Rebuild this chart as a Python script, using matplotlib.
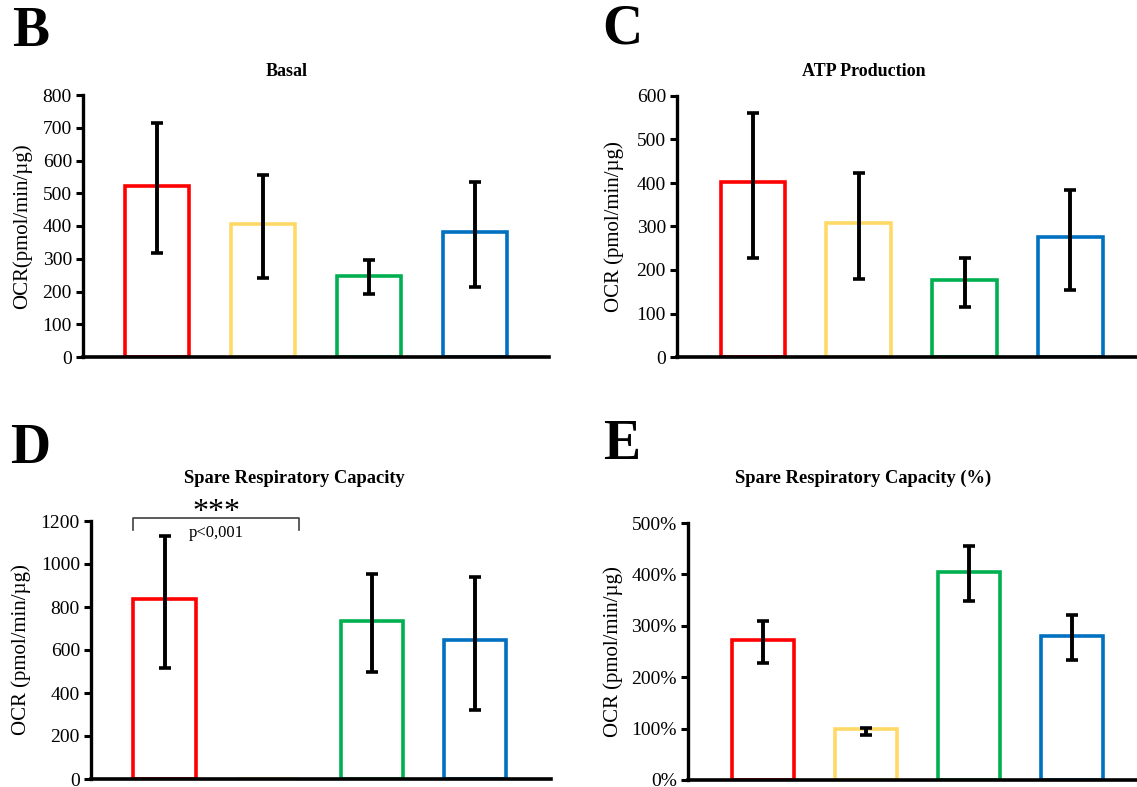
import matplotlib
matplotlib.use("Agg")
import matplotlib.pyplot as plt
import numpy as np

plt.rcParams['font.family'] = ['Liberation Serif', 'DejaVu Serif']

# ---------------- data ----------------
colors = ['#FF0000', '#FFD966', '#00B050', '#0070C0']
groups = ['G1', 'G2', 'G3', 'G4']

basal_mean = [522, 405, 248, 382]
basal_errcenter = [516, 398, 243, 373]
basal_err = [198, 158, 52, 160]

atp_mean = [402, 308, 178, 276]
atp_errcenter = [394, 302, 171, 270]
atp_err = [166, 122, 57, 115]

src_mean = [838, 0, 736, 646]
src_errcenter = [824, 0, 724, 631]
src_err = [306, 0, 228, 310]

srcp_mean = [273, 100, 405, 280]
srcp_errcenter = [269, 95, 402, 277]
srcp_err = [41, 7, 54, 44]

basal_ticks = [0, 100, 200, 300, 400, 500, 600, 700, 800]
atp_ticks = [0, 100, 200, 300, 400, 500, 600]
src_ticks = [0, 200, 400, 600, 800, 1000, 1200]
srcp_ticks = [0, 100, 200, 300, 400, 500]
srcp_ticklabels = ['0%', '100%', '200%', '300%', '400%', '500%']

W, H = 1137, 787
fig = plt.figure(figsize=(W / 100, H / 100), dpi=100)


def add_ax(left, right, top, bottom):
    return fig.add_axes([left / W, 1 - bottom / H, (right - left) / W, (bottom - top) / H])


def style(ax, ticks, ticklabels=None):
    for s in ['top', 'right']:
        ax.spines[s].set_visible(False)
    ax.spines['left'].set_linewidth(2.4)
    ax.spines['bottom'].set_linewidth(2.6)
    ax.set_xticks([])
    ax.set_yticks(ticks)
    if ticklabels is not None:
        ax.set_yticklabels(ticklabels)
    ax.set_ylim(ticks[0], ticks[-1])
    ax.tick_params(axis='y', direction='out', length=5, width=2.2, labelsize=14, pad=3)


def draw(ax, means, errcenter, errs, width):
    x = np.arange(len(means))
    ax.bar(x, means, width=width, facecolor='none', edgecolor=colors, linewidth=2.6, zorder=1)
    for xi, c, e in zip(x, errcenter, errs):
        if e > 0:
            ax.errorbar(xi, c, yerr=e, fmt='none', ecolor='black', elinewidth=2.8,
                        capsize=4, capthick=2.6, zorder=3)


# B
axB = add_ax(83, 549, 95, 357)
draw(axB, basal_mean, basal_errcenter, basal_err, 0.61)
style(axB, basal_ticks)
axB.set_xlim(-0.70, 3.70)
axB.set_ylabel('OCR(pmol/min/µg)', fontsize=15, va='center')
axB.yaxis.set_label_coords((22 - 83) / 466, 0.5)

# C
axC = add_ax(677, 1137, 96, 357)
draw(axC, atp_mean, atp_errcenter, atp_err, 0.61)
style(axC, atp_ticks)
axC.set_xlim(-0.718, 3.63)
axC.set_ylabel('OCR (pmol/min/µg)', fontsize=15, va='center')
axC.yaxis.set_label_coords((614 - 677) / 460, 0.5)

# D
axD = add_ax(91, 551, 521, 779)
draw(axD, src_mean, src_errcenter, src_err, 0.6)
style(axD, src_ticks)
axD.set_xlim(-0.71, 3.73)
axD.set_ylabel('OCR (pmol/min/µg)', fontsize=15, va='center')
axD.yaxis.set_label_coords((21 - 91) / 460, 0.5)
# significance bracket
bx0, bx1 = -0.3, 1.3
ax_y_top, ax_y_tick = 1214, 1158
axD.plot([bx0, bx0, bx1, bx1], [ax_y_tick, ax_y_top, ax_y_top, ax_y_tick],
         color='#404040', lw=1.2, clip_on=False, zorder=4)
axD.text((bx0 + bx1) / 2, 1205, '***', ha='center', va='baseline', fontsize=23, clip_on=False)
axD.text((bx0 + bx1) / 2, 1145, 'p<0,001', ha='center', va='center', fontsize=12, clip_on=False)

# E
axE = add_ax(688, 1137, 523, 780)
draw(axE, srcp_mean, srcp_errcenter, srcp_err, 0.6)
style(axE, srcp_ticks, srcp_ticklabels)
axE.set_xlim(-0.728, 3.63)
axE.set_ylabel('OCR (pmol/min/µg)', fontsize=15, va='center')
axE.yaxis.set_label_coords((613 - 688) / 449, 0.5)

# titles
def ftext(x, y, s, **kw):
    fig.text(x / W, 1 - y / H, s, ha='center', va='center', **kw)

ftext(287, 71, 'Basal', fontsize=13, fontweight='bold')
ftext(864, 71, 'ATP Production', fontsize=13, fontweight='bold')
ftext(294, 478, 'Spare Respiratory Capacity', fontsize=13.3, fontweight='bold')
ftext(863, 478, 'Spare Respiratory Capacity (%)', fontsize=13.3, fontweight='bold')

# panel letters
ftext(31, 32, 'B', fontsize=40, fontweight='bold')
ftext(622, 30, 'C', fontsize=40, fontweight='bold')
ftext(30, 449, 'D', fontsize=40, fontweight='bold')
ftext(622, 445, 'E', fontsize=40, fontweight='bold')

fig.savefig('out.png', dpi=100)
